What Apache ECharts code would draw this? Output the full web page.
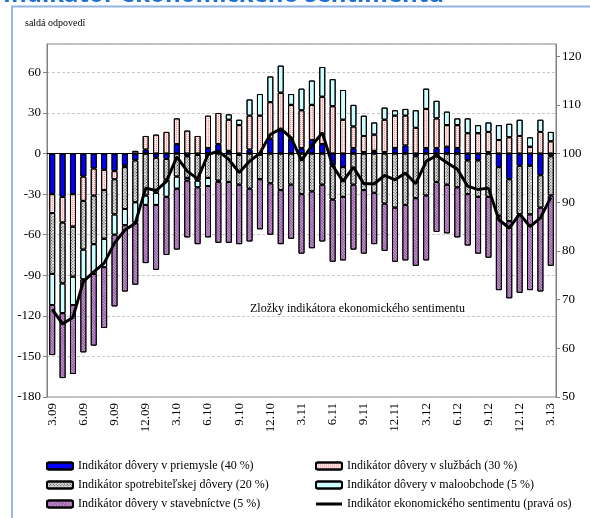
<!DOCTYPE html>
<html>
<head>
<meta charset="utf-8">
<script src="https://cdn.jsdelivr.net/npm/echarts@6/dist/echarts.min.js"></script>
<style>
  html, body { margin: 0; padding: 0; background: #fff; }
  #chart { width: 590px; height: 518px; }
</style>
</head>
<body>
<div id="chart"></div>
<script>
// mesiace 3.09 - 3.13
var months = [
  "3.09", "4.09", "5.09", "6.09", "7.09", "8.09", "9.09", "10.09", "11.09", "12.09",
  "1.10", "2.10", "3.10", "4.10", "5.10", "6.10", "7.10", "8.10", "9.10", "10.10", "11.10", "12.10",
  "1.11", "2.11", "3.11", "4.11", "5.11", "6.11", "7.11", "8.11", "9.11", "10.11", "11.11", "12.11",
  "1.12", "2.12", "3.12", "4.12", "5.12", "6.12", "7.12", "8.12", "9.12", "10.12", "11.12", "12.12",
  "1.13", "2.13", "3.13"
];

// príspevky zložiek (saldá odpovedí, ľavá os)
var priemysel = [-30, -32, -30, -17, -11, -12, -13, -9, -5, 3, -3, -4, 7, -2, -1, 4, 7, 2, -1, 3, -1, 11, 17, 11, 4, 10, 7, -9, -10, 4, 1, 2, 1, 4, 6, -2, 4, 4, 5, 4, -5, -5, 1, -10, -19, -9, -9, -16, -2];
var sluzby = [-14, -19, -24, -18, -20, -15, -6, -1, 2, 10, 14, 16, 19, 17, 13, 24, 23, 23, 21, 25, 28, 27, 28, 25, 28, 26, 35, 35, 25, 16, 12, 12, 24, 24, 22, 19, 29, 22, 16, 17, 15, 15, 15, 10, 12, 13, 5, 16, 9];
var spotrebitel = [-45, -45, -37, -36, -36, -36, -26, -31, -31, -31, -26, -15, -17, -16, -19, -18, -20, -21, -22, -26, -18, -22, -27, -23, -30, -28, -23, -25, -22, -23, -27, -29, -37, -40, -38, -31, -31, -21, -23, -25, -25, -27, -32, -36, -31, -36, -36, -24, -29];
var maloobchod = [-23, -22, -21, -22, -22, -21, -15, -12, -15, -7, -9, -13, -9, -2, -5, -6, -1, 4, 4, 12, 16, 19, 20, 8, 16, 18, 22, 20, 22, 16, 15, 9, 9, 4, 5, 13, 15, 13, 10, 5, 11, 6, 7, 11, 10, 12, 7, 9, 7];
var stavebnictvo = [-37, -48, -51, -54, -53, -45, -53, -49, -46, -43, -48, -43, -45, -42, -42, -38, -45, -45, -44, -39, -37, -38, -40, -40, -44, -42, -42, -46, -47, -48, -47, -38, -35, -40, -41, -50, -48, -37, -36, -37, -38, -42, -45, -55, -57, -58, -56, -62, -52];

// indikátor ekonomického sentimentu (pravá os)
var esi = [68, 65, 66.4, 73.7, 75.7, 77.5, 81.6, 84.3, 85.7, 92.9, 92.4, 94.3, 99.3, 96.4, 94.8, 99.8, 100.5, 98.8, 96.1, 98.4, 100.1, 103.9, 105.1, 103.2, 98.6, 101.6, 104.3, 97.5, 94.3, 97.2, 93.8, 93.8, 95.5, 94.6, 96, 93.8, 98.4, 99.6, 98.1, 96.8, 93.3, 92.6, 92.9, 86.4, 84.7, 87.6, 85, 86.8, 91];

var serif = "Liberation Serif";

var chart = echarts.init(document.getElementById("chart"));

// vzor bez textúry
var noDecal = { symbol: "rect", symbolSize: 1, color: "rgba(0,0,0,0)", dashArrayX: [1, 0], dashArrayY: [1, 0] };

function barSerie(name, data, color, decal) {
  return {
    name: name,
    type: "bar",
    stack: "zlozky",
    barWidth: 6,
    data: data,
    itemStyle: { color: color, borderColor: "#000", borderWidth: 1, decal: decal || noDecal },
    emphasis: { disabled: true }
  };
}

var legendText = { fontFamily: serif, fontSize: 12, color: "#000", lineHeight: 14 };

var option = {
  animation: false,
  aria: { enabled: true, label: { enabled: false }, decal: { show: true } },
  graphic: [
    {
      type: "rect",
      shape: { x: 12, y: 6.5, width: 700, height: 600 },
      style: { fill: "none", stroke: "#94b6e2", lineWidth: 2 }
    },
    {
      type: "text",
      left: 3,
      top: -17,
      style: { text: "Indikátor ekonomického sentimentu", fill: "#1f6fd0", font: "bold 24px 'Open Sans'" }
    },
    {
      type: "text",
      left: 25,
      top: 18,
      style: { text: "saldá odpovedí", fill: "#000", font: "10px '" + serif + "'" }
    },
    {
      type: "text",
      left: 250,
      top: 303,
      style: { text: "Zložky indikátora ekonomického sentimentu", fill: "#000", font: "12px '" + serif + "'" }
    }
  ],
  grid: {
    left: 47,
    right: 34,
    top: 44,
    bottom: 121,
    show: true,
    borderColor: "#808080",
    borderWidth: 1
  },
  legend: [
    {
      orient: "vertical",
      left: 46,
      top: 459,
      padding: 0,
      itemWidth: 26,
      itemHeight: 7,
      itemGap: 5,
      textStyle: legendText,
      data: ["Indikátor dôvery v priemysle (40 %)", "Indikátor spotrebiteľskej dôvery (20 %)", "Indikátor dôvery v stavebníctve (5 %)"]
    },
    {
      orient: "vertical",
      left: 315,
      top: 459,
      padding: 0,
      itemWidth: 26,
      itemHeight: 7,
      itemGap: 5,
      textStyle: legendText,
      data: [
        "Indikátor dôvery v službách (30 %)",
        "Indikátor dôvery v maloobchode (5 %)",
        {
          name: "Indikátor ekonomického sentimentu (pravá os)",
          icon: "path://M0,0L0.01,0ZM0,2L26,2L26,5L0,5ZM26,7L25.99,7Z"
        }
      ]
    }
  ],
  xAxis: [
    {
      type: "category",
      data: months,
      axisLine: { show: false, onZero: false },
      axisTick: { show: false },
      axisLabel: {
        interval: 2,
        rotate: 90,
        margin: 6,
        fontFamily: serif,
        fontSize: 13,
        color: "#000"
      }
    },
    {
      type: "category",
      data: months,
      position: "bottom",
      axisLine: { onZero: true, onZeroAxisIndex: 0, lineStyle: { color: "#000", width: 1 } },
      axisTick: { interval: 2, inside: true, length: 4, lineStyle: { color: "#000" } },
      axisLabel: { show: false }
    }
  ],
  yAxis: [
    {
      type: "value",
      min: -180,
      max: 81,
      interval: 30,
      axisLine: { show: true, lineStyle: { color: "#808080" } },
      axisTick: { show: true, length: 4, lineStyle: { color: "#808080" } },
      axisLabel: { showMaxLabel: false, margin: 6, fontFamily: serif, fontSize: 13, color: "#000" },
      splitLine: { lineStyle: { color: "#c8c8c8", type: [3, 2] } }
    },
    {
      type: "value",
      min: 50,
      max: 122.5,
      interval: 10,
      position: "right",
      axisLine: { show: true, lineStyle: { color: "#808080" } },
      axisTick: { show: true, length: 4, lineStyle: { color: "#808080" } },
      axisLabel: { showMaxLabel: false, margin: 6, fontFamily: serif, fontSize: 13, color: "#000" },
      splitLine: { show: false }
    }
  ],
  series: [
    barSerie("Indikátor dôvery v priemysle (40 %)", priemysel, "#0000ff"),
    barSerie("Indikátor dôvery v službách (30 %)", sluzby, "#fce2e2", {
      symbol: "rect", symbolSize: 1, color: "#ee9a9a", dashArrayX: [1, 1], dashArrayY: [1, 1]
    }),
    barSerie("Indikátor spotrebiteľskej dôvery (20 %)", spotrebitel, "#e4e4e4", {
      symbol: "rect", symbolSize: 1, color: "#3a3a3a", dashArrayX: [1, 1], dashArrayY: [1, 1]
    }),
    barSerie("Indikátor dôvery v maloobchode (5 %)", maloobchod, "#ccffff"),
    barSerie("Indikátor dôvery v stavebníctve (5 %)", stavebnictvo, "#caa3d4", {
      symbol: "rect", symbolSize: 1, color: "#8c4f9a", dashArrayX: [1, 0], dashArrayY: [1, 1]
    }),
    {
      name: "Indikátor ekonomického sentimentu (pravá os)",
      type: "line",
      yAxisIndex: 1,
      data: esi,
      symbol: "none",
      lineStyle: { color: "#000", width: 3 },
      itemStyle: { color: "#000", decal: noDecal },
      z: 5
    }
  ]
};

chart.setOption(option);
</script>
</body>
</html>
